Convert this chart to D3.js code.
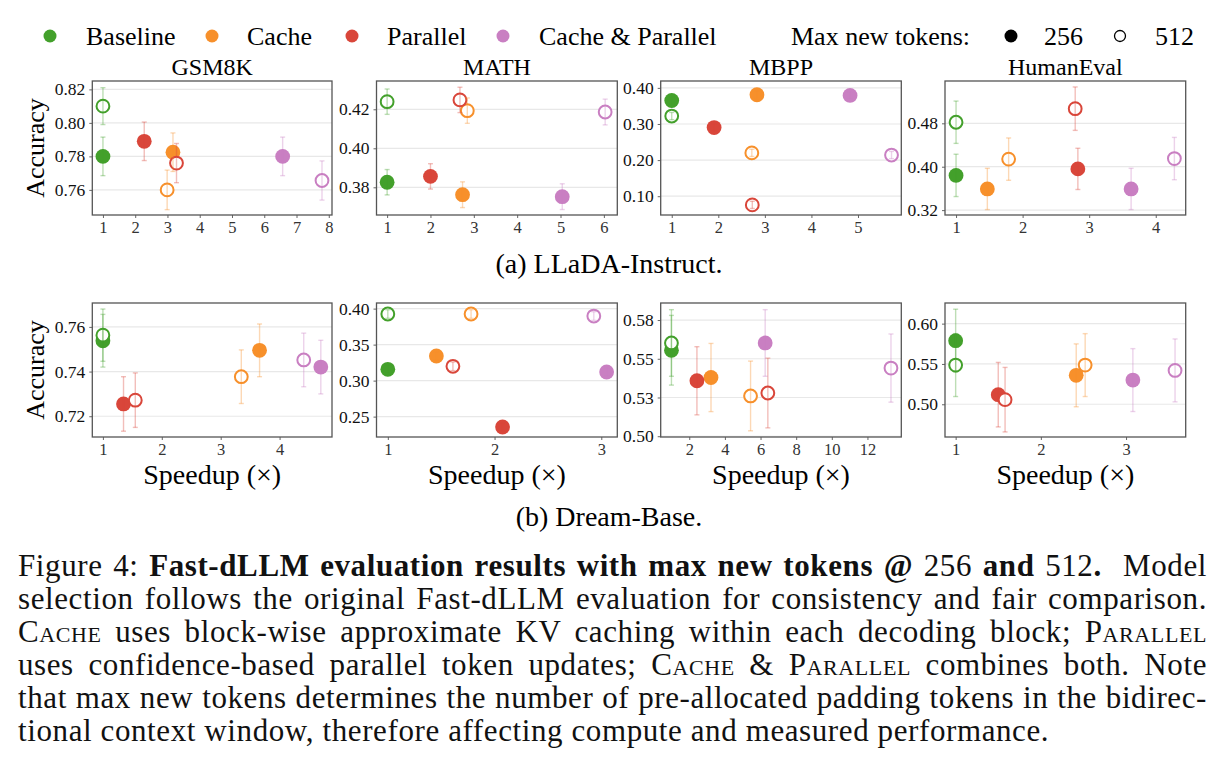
<!DOCTYPE html>
<html>
<head>
<meta charset="utf-8">
<script src="https://cdn.jsdelivr.net/npm/d3@7"></script>
<style>
  body { margin: 0; background: #fff; }
  svg { display: block; font-family: "Liberation Serif", serif; }
</style>
</head>
<body>
<div id="chart"></div>
<script>
// ---- data ----
const methods = ["Baseline", "Cache", "Parallel", "Cache & Parallel"];
const methodColors = ["#43a02b", "#f7902b", "#d9463a", "#c97fc2"];
const tokenLabels = ["256", "512"];

// every panel lists its points in this order
const pointMethod = [0, 0, 1, 1, 2, 2, 3, 3];
const pointTokens = [256, 512, 256, 512, 256, 512, 256, 512];

const benchmarks = ["GSM8K", "MATH", "MBPP", "HumanEval"];
const rowCaptions = ["(a) LLaDA-Instruct.", "(b) Dream-Base."];

// LLaDA-Instruct
const gsm8kLladaSpeedup = [1, 1, 3.17, 2.99, 2.28, 3.28, 6.57, 7.79];
const gsm8kLladaAcc     = [0.780, 0.810, 0.7825, 0.760, 0.789, 0.776, 0.780, 0.7656];
const gsm8kLladaErr     = [0.0115, 0.011, 0.0115, 0.0118, 0.0115, 0.0117, 0.0115, 0.0117];

const mathLladaSpeedup = [1, 1, 2.74, 2.85, 2.00, 2.68, 5.04, 6.03];
const mathLladaAcc     = [0.3826, 0.4239, 0.3762, 0.4193, 0.3856, 0.4248, 0.3752, 0.4186];
const mathLladaErr     = [0.0065, 0.0065, 0.0066, 0.0065, 0.0065, 0.0065, 0.0066, 0.0066];

const mbppLladaSpeedup = [1, 1, 2.83, 2.72, 1.91, 2.73, 4.83, 5.72];
const mbppLladaAcc     = [0.365, 0.322, 0.381, 0.220, 0.290, 0.076, 0.379, 0.214];
const mbppLladaErr     = [0.010, 0.010, 0.010, 0.010, 0.010, 0.010, 0.010, 0.010];

const humanevalLladaSpeedup = [1, 1, 1.47, 1.79, 2.83, 2.79, 3.63, 4.28];
const humanevalLladaAcc     = [0.384, 0.482, 0.359, 0.414, 0.396, 0.507, 0.359, 0.415];
const humanevalLladaErr     = [0.039, 0.039, 0.038, 0.039, 0.038, 0.040, 0.038, 0.039];

// Dream-Base
const gsm8kDreamSpeedup = [1, 1, 3.66, 3.35, 1.35, 1.55, 4.70, 4.41];
const gsm8kDreamAcc     = [0.7538, 0.7563, 0.7495, 0.7377, 0.7255, 0.7272, 0.742, 0.7452];
const gsm8kDreamErr     = [0.0118, 0.0117, 0.0118, 0.012, 0.0122, 0.0122, 0.012, 0.012];

const mathDreamSpeedup = [1, 1, 1.455, 1.78, 2.075, 1.61, 3.05, 2.93];
const mathDreamAcc     = [0.3157, 0.3925, 0.3342, 0.3925, 0.2356, 0.3199, 0.312, 0.3897];
const mathDreamErr     = [0.006, 0.006, 0.006, 0.006, 0.006, 0.006, 0.006, 0.006];

const mbppDreamSpeedup = [1, 1, 3.22, 5.44, 2.43, 6.41, 6.26, 13.32];
const mbppDreamAcc     = [0.5555, 0.5602, 0.5379, 0.526, 0.5358, 0.5279, 0.5602, 0.544];
const mbppDreamErr     = [0.0225, 0.0215, 0.022, 0.0225, 0.022, 0.0225, 0.0215, 0.022];

const humanevalDreamSpeedup = [1, 1, 2.415, 2.52, 1.50, 1.58, 3.08, 3.575];
const humanevalDreamAcc     = [0.5789, 0.5486, 0.5359, 0.5486, 0.5119, 0.5057, 0.53, 0.542];
const humanevalDreamErr     = [0.039, 0.039, 0.039, 0.039, 0.040, 0.040, 0.039, 0.039];

// axis domains and ticks
const xDomains = [
  [[0.67, 8.1], [0.755, 6.31], [0.763, 5.93], [0.834, 4.45]],
  [[0.82, 4.89], [0.894, 3.15], [0.397, 13.9], [0.875, 3.70]]
];
const yDomains = [
  [[0.745, 0.825], [0.3658, 0.4345], [0.048, 0.419], [0.311, 0.558]],
  [[0.7107, 0.7707], [0.2217, 0.4078], [0.4995, 0.586], [0.4594, 0.6256]]
];
const xTicks = [
  [[1, 2, 3, 4, 5, 6, 7, 8], [1, 2, 3, 4, 5, 6], [1, 2, 3, 4, 5], [1, 2, 3, 4]],
  [[1, 2, 3, 4], [1, 2, 3], [2, 4, 6, 8, 10, 12], [1, 2, 3]]
];
const yTicks = [
  [[0.76, 0.78, 0.80, 0.82], [0.38, 0.40, 0.42], [0.10, 0.20, 0.30, 0.40], [0.32, 0.40, 0.48]],
  [[0.72, 0.74, 0.76], [0.25, 0.30, 0.35, 0.40], [0.50, 0.525, 0.55, 0.575], [0.50, 0.55, 0.60]]
];
const yTickLabels = [
  [["0.76", "0.78", "0.80", "0.82"], ["0.38", "0.40", "0.42"], ["0.10", "0.20", "0.30", "0.40"], ["0.32", "0.40", "0.48"]],
  [["0.72", "0.74", "0.76"], ["0.25", "0.30", "0.35", "0.40"], ["0.50", "0.53", "0.55", "0.58"], ["0.50", "0.55", "0.60"]]
];

const panelData = [
  [[gsm8kLladaSpeedup, gsm8kLladaAcc, gsm8kLladaErr],
   [mathLladaSpeedup, mathLladaAcc, mathLladaErr],
   [mbppLladaSpeedup, mbppLladaAcc, mbppLladaErr],
   [humanevalLladaSpeedup, humanevalLladaAcc, humanevalLladaErr]],
  [[gsm8kDreamSpeedup, gsm8kDreamAcc, gsm8kDreamErr],
   [mathDreamSpeedup, mathDreamAcc, mathDreamErr],
   [mbppDreamSpeedup, mbppDreamAcc, mbppDreamErr],
   [humanevalDreamSpeedup, humanevalDreamAcc, humanevalDreamErr]]
];

// ---- layout ----
const W = 1224, H = 766;
const rowsY = [[81, 215], [303, 437]];
const colsX = [[92.3, 332], [376.5, 617.3], [660.7, 901.3], [945, 1185.7]];

const svg = d3.select("#chart").append("svg")
  .attr("width", W).attr("height", H);

// legend
const legendItems = [
  {dot: 50, text: 86, label: methods[0], color: methodColors[0], open: false},
  {dot: 212, text: 247, label: methods[1], color: methodColors[1], open: false},
  {dot: 352, text: 387, label: methods[2], color: methodColors[2], open: false},
  {dot: 503, text: 539, label: methods[3], color: methodColors[3], open: false},
  {dot: null, text: 791, label: "Max new tokens:"},
  {dot: 1011, text: 1044, label: tokenLabels[0], color: "#000", open: false},
  {dot: 1120, text: 1155, label: tokenLabels[1], color: "#000", open: true}
];
const legend = svg.append("g").attr("class", "legend");
legendItems.forEach(d => {
  if (d.dot !== null) {
    legend.append("circle")
      .attr("cx", d.dot).attr("cy", 36)
      .attr("r", d.open ? 5.5 : 6.5)
      .attr("fill", d.open ? "#fff" : d.color)
      .attr("stroke", d.open ? d.color : "none")
      .attr("stroke-width", 1.3);
  }
  legend.append("text")
    .attr("x", d.text).attr("y", 45)
    .attr("font-size", 26)
    .text(d.label);
});

// panels
panelData.forEach((row, r) => {
  row.forEach((series, c) => {
    const [x0, x1] = colsX[c];
    const [y0, y1] = rowsY[r];
    const x = d3.scaleLinear().domain(xDomains[r][c]).range([x0, x1]);
    const y = d3.scaleLinear().domain(yDomains[r][c]).range([y1, y0]);
    const g = svg.append("g");

    // grid
    g.selectAll(".grid")
      .data(yTicks[r][c])
      .enter().append("line")
      .attr("x1", x0).attr("x2", x1)
      .attr("y1", d => y(d)).attr("y2", d => y(d))
      .attr("stroke", "#e8e8e8").attr("stroke-width", 1.2);

    // axes
    const labels = yTickLabels[r][c];
    const ya = g.append("g")
      .attr("transform", `translate(${x0},0)`)
      .call(d3.axisLeft(y).tickValues(yTicks[r][c]).tickSize(3).tickPadding(4)
        .tickFormat((d, i) => labels[i]));
    const xa = g.append("g")
      .attr("transform", `translate(0,${y1})`)
      .call(d3.axisBottom(x).tickValues(xTicks[r][c]).tickSize(3).tickPadding(3)
        .tickFormat(d3.format("d")));
    [ya, xa].forEach(a => {
      a.select(".domain").remove();
      a.selectAll(".tick line").attr("stroke", "#666");
      a.selectAll("text")
        .attr("font-family", "'Liberation Serif', serif")
        .attr("font-size", 17.5)
        .attr("fill", "#111");
    });
    xa.selectAll("text").attr("fill", "#333").attr("font-size", 16.5);

    // frame
    g.append("rect")
      .attr("x", x0).attr("y", y0)
      .attr("width", x1 - x0).attr("height", y1 - y0)
      .attr("fill", "none").attr("stroke", "#555").attr("stroke-width", 1.3);

    const [sx, acc, err] = series;
    const pts = sx.map((v, i) => ({
      x: v, y: acc[i], e: err[i],
      color: methodColors[pointMethod[i]],
      open: pointTokens[i] === 512
    }));

    // filled markers first, open ones on top
    const ordered = pts.filter(p => !p.open).concat(pts.filter(p => p.open));
    g.selectAll(".pt")
      .data(ordered)
      .enter().append("circle")
      .attr("cx", d => x(d.x)).attr("cy", d => y(d.y))
      .attr("r", d => d.open ? 6.4 : 7.4)
      .attr("fill", d => d.open ? "#fff" : d.color)
      .attr("stroke", d => d.open ? d.color : "none")
      .attr("stroke-width", 2);

    // error bars
    const eb = g.selectAll(".eb").data(pts).enter().append("g")
      .attr("stroke", d => d.color)
      .attr("stroke-opacity", 0.35)
      .attr("stroke-width", 1.4);
    eb.append("line")
      .attr("x1", d => x(d.x)).attr("x2", d => x(d.x))
      .attr("y1", d => y(d.y - d.e)).attr("y2", d => y(d.y + d.e));
    eb.append("line")
      .attr("x1", d => x(d.x) - 2.5).attr("x2", d => x(d.x) + 2.5)
      .attr("y1", d => y(d.y - d.e)).attr("y2", d => y(d.y - d.e));
    eb.append("line")
      .attr("x1", d => x(d.x) - 2.5).attr("x2", d => x(d.x) + 2.5)
      .attr("y1", d => y(d.y + d.e)).attr("y2", d => y(d.y + d.e));

    // titles on top row, x label on bottom row
    if (r === 0) {
      svg.append("text")
        .attr("x", (x0 + x1) / 2).attr("y", 75)
        .attr("text-anchor", "middle").attr("font-size", 24)
        .text(benchmarks[c]);
    } else {
      svg.append("text")
        .attr("x", (x0 + x1) / 2).attr("y", 484)
        .attr("text-anchor", "middle").attr("font-size", 28)
        .text("Speedup (×)");
    }
    if (c === 0) {
      svg.append("text")
        .attr("transform", `translate(44,${(y0 + y1) / 2}) rotate(-90)`)
        .attr("text-anchor", "middle").attr("font-size", 26)
        .text("Accuracy");
    }
  });
});

// row captions
svg.append("text").attr("x", 609).attr("y", 273)
  .attr("text-anchor", "middle").attr("font-size", 28).text(rowCaptions[0]);
svg.append("text").attr("x", 609).attr("y", 526)
  .attr("text-anchor", "middle").attr("font-size", 28).text(rowCaptions[1]);

// figure caption, justified line by line
const captionLines = [
  [["Figure 4: ", ""], ["Fast-dLLM evaluation results with max new tokens @", "b"], [" 256 ", ""], ["and", "b"], [" 512", ""], [".", "b"], ["  Model", ""]],
  [["selection follows the original Fast-dLLM evaluation for consistency and fair comparison.", ""]],
  [["Cache", "sc"], [" uses block-wise approximate KV caching within each decoding block; ", ""], ["Parallel", "sc"]],
  [["uses confidence-based parallel token updates; ", ""], ["Cache", "sc"], [" & ", ""], ["Parallel", "sc"], [" combines both. Note", ""]],
  [["that max new tokens determines the number of pre-allocated padding tokens in the bidirec-", ""]],
  [["tional context window, therefore affecting compute and measured performance.", ""]]
];
const capLeft = 18, capRight = 1207;
captionLines.forEach((parts, i) => {
  const t = svg.append("text")
    .attr("x", capLeft).attr("y", 576 + i * 33)
    .attr("font-size", 31).attr("letter-spacing", 0.6).attr("fill", "#111");
  parts.forEach(([s, style]) => {
    const ts = t.append("tspan").text(s).style("white-space", "pre");
    if (style === "b") ts.attr("font-weight", "bold");
    if (style === "sc") ts.style("font-variant", "small-caps");
  });
  if (i < captionLines.length - 1) {
    const w = t.node().getComputedTextLength();
    const spaces = parts.map(p => p[0]).join("").split(" ").length - 1;
    t.attr("word-spacing", (capRight - capLeft - w) / spaces);
  }
});
</script>
</body>
</html>
